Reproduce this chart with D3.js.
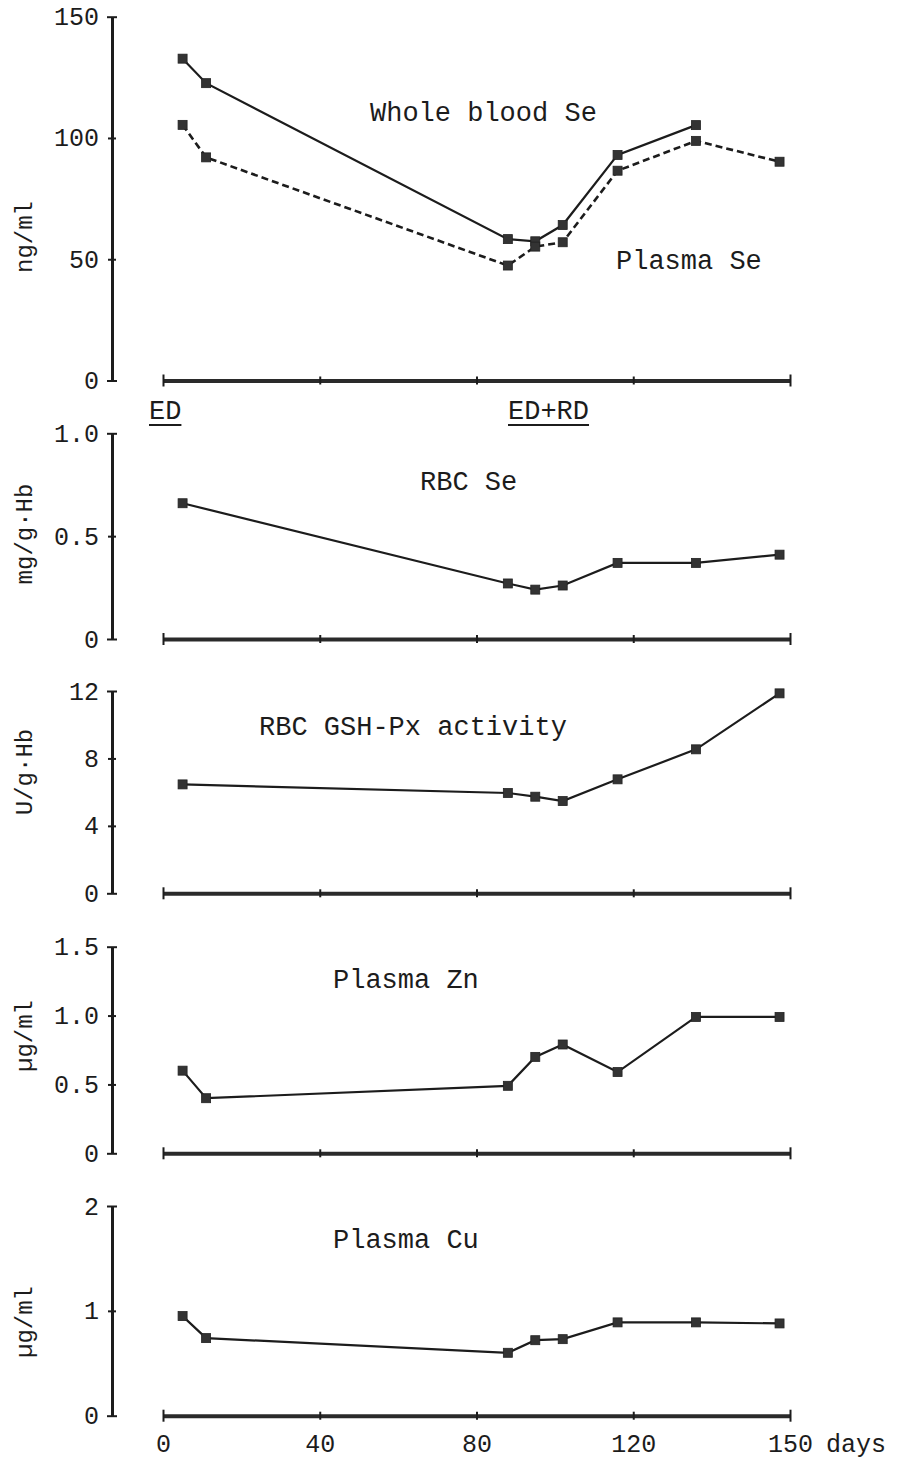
<!DOCTYPE html>
<html>
<head>
<meta charset="utf-8">
<script src="https://cdn.jsdelivr.net/npm/d3@7"></script>
<style>
  body { margin: 0; background: #fff; }
  svg { display: block; }
</style>
</head>
<body>
<svg id="chart" width="900" height="1466"></svg>
<script>
// sampling days (the axis is labelled 0, 40, 80, 120, 150 with even spacing)
const days = [5, 11, 88, 95, 102, 116, 132, 148]
const xTicks = [0, 40, 80, 120, 150]

// series values, null = not measured that day
const wholeBloodSe = [132.7, 122.6, 58.3, 57.4, 64.1, 93.0, 105.3, null]
const plasmaSe = [105.4, 92.0, 47.4, 55.2, 57.0, 86.5, 98.8, 90.2]
const rbcSe = [0.66, null, 0.27, 0.24, 0.26, 0.37, 0.37, 0.41]
const rbcGshPx = [6.46, null, 5.95, 5.73, 5.47, 6.76, 8.54, 11.86]
const plasmaZn = [0.60, 0.40, 0.49, 0.70, 0.79, 0.59, 0.99, 0.99]
const plasmaCu = [0.95, 0.74, 0.60, 0.72, 0.73, 0.89, 0.89, 0.88]

// y tick values per panel
const seTicks = [0, 50, 100, 150]
const rbcSeTicks = [0, 0.5, 1.0]
const gshTicks = [0, 4, 8, 12]
const znTicks = [0, 0.5, 1.0, 1.5]
const cuTicks = [0, 1, 2]

const FONT = '"Liberation Mono", "Courier New", monospace'
const INK = '#1c1c1c'

const svg = d3.select('#chart')
const axisX = 112

// x scale: 0-120 linear, last tick (150) drawn at the same spacing
const xStep = (790 - 163) / 4
const x = d3.scaleLinear()
    .domain([0, 120, 150])
    .range([163, 163 + 3 * xStep, 790])

const fmt1 = d => d === 0 ? '0' : d3.format('.1f')(d)
const fmt0 = d => String(d)

const panels = [
    {
        top: 16.7, bottom: 380.5, max: 150, ticks: seTicks, fmt: fmt0,
        unit: 'ng/ml', unitY: 237,
        series: [{ values: wholeBloodSe, dashed: false }, { values: plasmaSe, dashed: true }],
        labels: [{ text: 'Whole blood Se', x: 370, y: 121 }, { text: 'Plasma Se', x: 616, y: 269 }]
    },
    {
        top: 433.3, bottom: 639, max: 1, ticks: rbcSeTicks, fmt: fmt1,
        unit: 'mg/g·Hb', unitY: 534,
        series: [{ values: rbcSe, dashed: false }],
        labels: [{ text: 'RBC Se', x: 420, y: 490 }]
    },
    {
        top: 691, bottom: 893.3, max: 12, ticks: gshTicks, fmt: fmt0,
        unit: 'U/g·Hb', unitY: 772,
        series: [{ values: rbcGshPx, dashed: false }],
        labels: [{ text: 'RBC GSH-Px activity', x: 259, y: 735 }]
    },
    {
        top: 946.7, bottom: 1153.3, max: 1.5, ticks: znTicks, fmt: fmt1,
        unit: 'µg/ml', unitY: 1036,
        series: [{ values: plasmaZn, dashed: false }],
        labels: [{ text: 'Plasma Zn', x: 333, y: 988 }]
    },
    {
        top: 1206, bottom: 1415.7, max: 2, ticks: cuTicks, fmt: fmt0,
        unit: 'µg/ml', unitY: 1322,
        series: [{ values: plasmaCu, dashed: false }],
        labels: [{ text: 'Plasma Cu', x: 333, y: 1248 }]
    }
]

function placePanel(p, isLast) {
    let y = d3.scaleLinear().domain([0, p.max]).range([p.bottom, p.top])

    // y axis
    let gy = svg.append('g')
        .attr('transform', 'translate(' + axisX + ',0)')
        .call(d3.axisLeft(y).tickValues(p.ticks).tickFormat(p.fmt).tickSizeInner(4).tickSizeOuter(0))
    gy.attr('font-family', FONT)
    gy.select('.domain').attr('stroke', INK).attr('stroke-width', 3)
    gy.selectAll('.tick line')
        .attr('stroke', INK).attr('stroke-width', 2)
        .attr('x1', (d, i) => (i === 0 || i === p.ticks.length - 1) ? 5 : 4)
        .attr('x2', (d, i) => (i === 0 || i === p.ticks.length - 1) ? -5 : -4)
    gy.selectAll('.tick text')
        .attr('font-size', 25).attr('fill', INK).attr('x', -13)

    // x axis
    let gx = svg.append('g')
        .attr('transform', 'translate(0,' + p.bottom + ')')
        .call(d3.axisBottom(x).tickValues(xTicks).tickSizeInner(5).tickSizeOuter(0))
    gx.attr('font-family', FONT)
    gx.select('.domain').attr('stroke', '#2a2a2a').attr('stroke-width', 4)
    gx.selectAll('.tick line')
        .attr('stroke', INK).attr('stroke-width', 2)
        .attr('y1', (d, i) => (i === 0 || i === xTicks.length - 1) ? -6 : -4)
        .attr('y2', (d, i) => (i === 0 || i === xTicks.length - 1) ? 6 : 4)
    if (isLast) {
        gx.selectAll('.tick text')
            .attr('font-size', 25).attr('fill', INK)
            .attr('y', 36).attr('dy', 0)
        svg.append('text')
            .attr('x', x(150) + 36).attr('y', p.bottom + 36)
            .attr('font-family', FONT).attr('font-size', 25).attr('fill', INK)
            .text('days')
    } else {
        gx.selectAll('.tick text').remove()
    }

    // unit label
    svg.append('text')
        .attr('transform', 'translate(32,' + p.unitY + ')rotate(-90)')
        .attr('text-anchor', 'middle')
        .attr('font-family', FONT).attr('font-size', 24).attr('fill', INK)
        .text(p.unit)

    // series
    p.series.forEach(s => {
        let pts = days.map((d, i) => ({ day: d, v: s.values[i] })).filter(d => d.v != null)
        let line = d3.line().x(d => x(d.day)).y(d => y(d.v))
        svg.append('path')
            .datum(pts)
            .attr('d', line)
            .attr('fill', 'none')
            .attr('stroke', INK)
            .attr('stroke-width', s.dashed ? 2.6 : 2.2)
            .attr('stroke-dasharray', s.dashed ? '7,4' : null)
        svg.append('g').selectAll('rect')
            .data(pts)
            .enter().append('rect')
            .attr('x', d => x(d.day) - 4.5)
            .attr('y', d => y(d.v) - 4.5)
            .attr('width', 9).attr('height', 9)
            .attr('fill', '#333')
            .attr('stroke', '#222').attr('stroke-width', 0.8)
    })

    // series names
    p.labels.forEach(l => {
        svg.append('text')
            .attr('x', l.x).attr('y', l.y)
            .attr('font-family', FONT).attr('font-size', 27).attr('fill', INK)
            .text(l.text)
    })
}

panels.forEach((p, i) => placePanel(p, i === panels.length - 1))

// diet period markers, underlined
const periods = [{ text: 'ED', x: 149 }, { text: 'ED+RD', x: 508 }]
periods.forEach(m => {
    let t = svg.append('text')
        .attr('x', m.x).attr('y', 419)
        .attr('font-family', FONT).attr('font-size', 27).attr('fill', INK)
        .text(m.text)
    let w = t.node().getComputedTextLength()
    svg.append('line')
        .attr('x1', m.x).attr('x2', m.x + w)
        .attr('y1', 425).attr('y2', 425)
        .attr('stroke', INK).attr('stroke-width', 1.8)
})
</script>
</body>
</html>
